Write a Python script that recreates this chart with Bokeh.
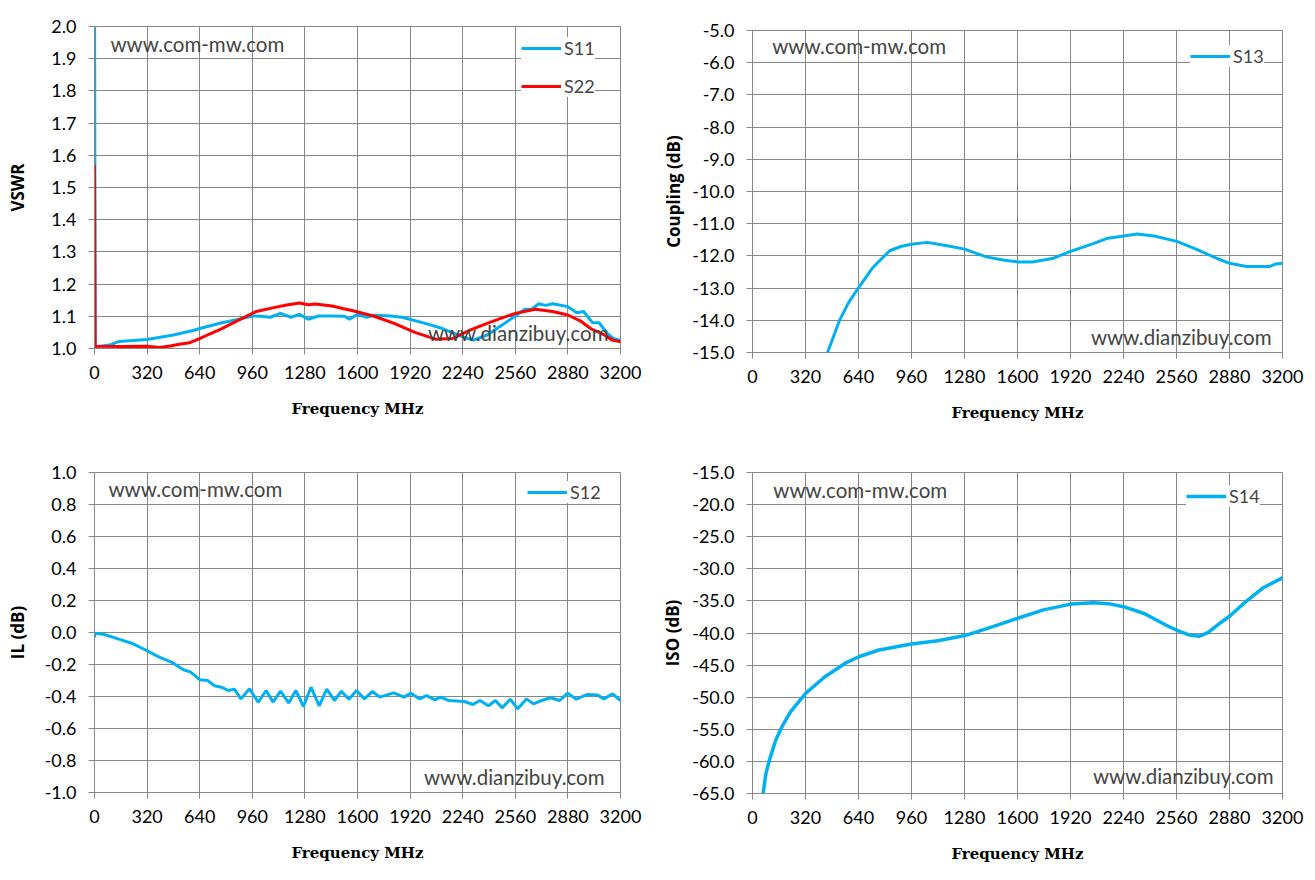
from bokeh.embed import file_html
from bokeh.layouts import column, row
from bokeh.models import (FixedTicker, Label, Legend, LegendItem,
                          NumeralTickFormatter, Range1d)
from bokeh.plotting import figure
from bokeh.resources import INLINE

BLUE = "#00B0F0"
RED = "#FF0000"
GRID = "#868686"

freq_ticks = [0, 320, 640, 960, 1280, 1600, 1920, 2240, 2560, 2880, 3200]
vswr_ticks = [1.0, 1.1, 1.2, 1.3, 1.4, 1.5, 1.6, 1.7, 1.8, 1.9, 2.0]
coupling_ticks = [-15.0, -14.0, -13.0, -12.0, -11.0, -10.0, -9.0, -8.0,
                  -7.0, -6.0, -5.0]
il_ticks = [-1.0, -0.8, -0.6, -0.4, -0.2, 0.0, 0.2, 0.4, 0.6, 0.8, 1.0]
iso_ticks = [-65.0, -60.0, -55.0, -50.0, -45.0, -40.0, -35.0, -30.0,
             -25.0, -20.0, -15.0]

# VSWR, S11 (blue) and S22 (red)
s11_freq = [0, 4, 100, 150, 320, 480, 600, 640, 775, 880, 960, 1010, 1069,
            1132, 1195, 1247, 1300, 1362, 1446, 1520, 1551, 1600, 1655, 1700,
            1802, 1870, 1918, 2012, 2117, 2240, 2305, 2389, 2494, 2560, 2619,
            2660, 2703, 2745, 2787, 2880, 2934, 2976, 3028, 3070, 3122, 3160,
            3200]
s11_vswr = [2.2, 1.005, 1.012, 1.022, 1.028, 1.042, 1.056, 1.062, 1.080,
            1.091, 1.101, 1.100, 1.097, 1.109, 1.097, 1.106, 1.091, 1.101,
            1.101, 1.100, 1.091, 1.106, 1.097, 1.103, 1.101, 1.097, 1.091,
            1.078, 1.062, 1.036, 1.026, 1.042, 1.078, 1.101, 1.122, 1.122,
            1.139, 1.134, 1.139, 1.130, 1.111, 1.115, 1.081, 1.080, 1.045,
            1.030, 1.026]

s22_freq = [0, 4, 160, 320, 398, 460, 524, 580, 640, 700, 775, 880, 985,
            1090, 1170, 1247, 1300, 1342, 1446, 1510, 1572, 1697, 1823, 1949,
            2075, 2179, 2284, 2389, 2480, 2560, 2682, 2787, 2880, 2955, 3018,
            3060, 3102, 3150, 3200]
s22_vswr = [1.57, 1.007, 1.006, 1.007, 1.003, 1.008, 1.014, 1.018, 1.031,
            1.045, 1.062, 1.089, 1.115, 1.127, 1.135, 1.141, 1.136, 1.138,
            1.132, 1.124, 1.117, 1.101, 1.078, 1.050, 1.029, 1.031, 1.057,
            1.078, 1.095, 1.109, 1.122, 1.115, 1.104, 1.086, 1.062, 1.052,
            1.042, 1.026, 1.021]

# Coupling S13
s13_freq = [440, 453, 524, 580, 640, 727, 828, 900, 960, 1056, 1183, 1280,
            1411, 1513, 1604, 1690, 1817, 1920, 2045, 2146, 2242, 2323, 2425,
            2562, 2678, 2805, 2881, 2982, 3121, 3160, 3200]
s13_db = [-15.2, -15.0, -14.02, -13.45, -12.99, -12.36, -11.84, -11.70,
          -11.64, -11.58, -11.69, -11.79, -12.03, -12.13, -12.19, -12.19,
          -12.07, -11.86, -11.64, -11.45, -11.38, -11.32, -11.38, -11.55,
          -11.79, -12.08, -12.23, -12.33, -12.33, -12.25, -12.23]

# Insertion loss S12
s12_freq = [0, 5, 59, 143, 226, 317, 394, 478, 541, 583, 642, 688, 730, 772,
            814, 851, 891, 943, 996, 1044, 1086, 1132, 1181, 1225, 1271, 1317,
            1367, 1413, 1460, 1502, 1548, 1594, 1642, 1690, 1736, 1820, 1883,
            1925, 1978, 2020, 2072, 2104, 2156, 2250, 2303, 2344, 2397, 2439,
            2481, 2529, 2575, 2628, 2670, 2721, 2774, 2830, 2879, 2932, 2995,
            3057, 3099, 3152, 3200]
s12_db = [-0.03, -0.004, -0.0125, -0.04, -0.067, -0.1125, -0.154, -0.19,
          -0.233, -0.246, -0.296, -0.30, -0.333, -0.342, -0.3625, -0.354,
          -0.415, -0.352, -0.435, -0.3625, -0.435, -0.367, -0.44, -0.3625,
          -0.4625, -0.342, -0.458, -0.354, -0.425, -0.367, -0.417, -0.3625,
          -0.415, -0.369, -0.404, -0.377, -0.404, -0.379, -0.415, -0.394,
          -0.421, -0.404, -0.425, -0.431, -0.45, -0.425, -0.458, -0.425,
          -0.471, -0.417, -0.477, -0.415, -0.446, -0.425, -0.408, -0.425,
          -0.379, -0.417, -0.3875, -0.39, -0.415, -0.383, -0.425]

# Isolation S14
s14_freq = [64, 81, 102, 140, 178, 229, 321, 433, 560, 642, 764, 960, 1120,
            1283, 1451, 1601, 1757, 1922, 2062, 2164, 2240, 2368, 2495, 2564,
            2635, 2699, 2750, 2826, 2882, 2979, 3081, 3200]
s14_db = [-65.0, -61.9, -59.8, -56.7, -54.6, -52.3, -49.4, -46.9, -44.7,
          -43.7, -42.65, -41.7, -41.2, -40.4, -39.0, -37.7, -36.4, -35.5,
          -35.3, -35.5, -35.9, -37.0, -38.75, -39.6, -40.3, -40.5, -39.95,
          -38.4, -37.35, -35.1, -33.0, -31.4]


def make_plot(y_ticks, y_label, width, height, borders, label_standoff):
    (left, right, top, bottom) = borders
    p = figure(width=width, height=height,
               x_range=Range1d(0, 3200),
               y_range=Range1d(y_ticks[0], y_ticks[-1]),
               output_backend="svg", toolbar_location=None,
               min_border_left=left, min_border_right=right,
               min_border_top=top, min_border_bottom=bottom)
    p.outline_line_color = GRID
    p.outline_line_width = 1

    p.xaxis.ticker = FixedTicker(ticks=freq_ticks)
    p.yaxis.ticker = FixedTicker(ticks=y_ticks)
    p.xgrid.ticker = FixedTicker(ticks=freq_ticks)
    p.ygrid.ticker = FixedTicker(ticks=y_ticks)
    p.xaxis.formatter = NumeralTickFormatter(format="0")
    p.yaxis.formatter = NumeralTickFormatter(format="0.0")
    p.xgrid.grid_line_color = GRID
    p.ygrid.grid_line_color = GRID

    for axis in (p.xaxis, p.yaxis):
        axis.axis_line_color = GRID
        axis.major_tick_line_color = GRID
        axis.major_tick_in = 0
        axis.major_tick_out = 6
        axis.minor_tick_line_color = None
        axis.major_label_text_font = "Lato"
        axis.major_label_text_font_size = "18px"
        axis.major_label_text_color = "black"
    p.xaxis.major_label_standoff = 11
    p.yaxis.major_label_standoff = 12

    p.xaxis.axis_label = "Frequency MHz"
    p.xaxis.axis_label_text_font = "DejaVu Serif"
    p.xaxis.axis_label_text_font_style = "bold"
    p.xaxis.axis_label_text_font_size = "15px"
    p.xaxis.axis_label_text_color = "black"
    p.xaxis.axis_label_standoff = 18

    p.yaxis.axis_label = y_label
    p.yaxis.axis_label_text_font = "Open Sans"
    p.yaxis.axis_label_text_font_style = "bold"
    p.yaxis.axis_label_text_font_size = "17px"
    p.yaxis.axis_label_text_color = "black"
    p.yaxis.axis_label_standoff = label_standoff
    return p


def add_legend(p, items, location):
    legend = Legend(items=items, location=location)
    legend.glyph_width = 40
    legend.glyph_height = 20
    legend.label_height = 20
    legend.label_standoff = 3
    legend.spacing = 16
    legend.padding = 8
    legend.margin = 0
    legend.border_line_color = None
    legend.background_fill_color = "white"
    legend.background_fill_alpha = 1.0
    legend.label_text_font = "Lato"
    legend.label_text_font_size = "18px"
    p.add_layout(legend)


def add_marks(p, top_xy, bottom_xy):
    p.add_layout(Label(x=top_xy[0], y=top_xy[1], text="www.com-mw.com",
                       text_font="Lato", text_font_size="20.5px",
                       text_baseline="middle", text_align="left"))
    p.add_layout(Label(x=bottom_xy[0], y=bottom_xy[1],
                       text="www.dianzibuy.com",
                       text_font="Lato", text_font_size="20.5px",
                       text_baseline="middle", text_align="right"))


def plot() -> None:
    vswr_plot = make_plot(vswr_ticks, "VSWR", 658, 440, (94, 38, 26, 92), 19)
    r11 = vswr_plot.line(s11_freq, s11_vswr, line_color=BLUE, line_width=3)
    r22 = vswr_plot.line(s22_freq, s22_vswr, line_color=RED, line_width=3)
    add_marks(vswr_plot, (97, 1.947), (3127, 1.047))
    add_legend(vswr_plot,
               [LegendItem(label="S11", renderers=[r11]),
                LegendItem(label="S22", renderers=[r22])],
               (427, 251))

    coupling_plot = make_plot(coupling_ticks, "Coupling (dB)", 650, 440,
                              (90, 26, 30, 88), 4)
    r13 = coupling_plot.line(s13_freq, s13_db, line_color=BLUE,
                             line_width=3)
    add_marks(coupling_plot, (119, -5.47), (3134, -14.53))
    add_legend(coupling_plot, [LegendItem(label="S13", renderers=[r13])],
               (438, 285))

    il_plot = make_plot(il_ticks, "IL (dB)", 658, 430, (94, 38, 32, 78), 13)
    r12 = il_plot.line(s12_freq, s12_db, line_color=BLUE, line_width=3)
    add_marks(il_plot, (85, 0.9), (3103, -0.9))
    add_legend(il_plot, [LegendItem(label="S12", renderers=[r12])],
               (433, 289))

    iso_plot = make_plot(iso_ticks, "ISO (dB)", 650, 430, (90, 26, 32, 77), 5)
    r14 = iso_plot.line(s14_freq, s14_db, line_color=BLUE, line_width=3.5)
    add_marks(iso_plot, (126, -17.65), (3146, -62.35))
    add_legend(iso_plot, [LegendItem(label="S14", renderers=[r14])],
               (434, 286))

    layout = row(column(vswr_plot, il_plot),
                 column(coupling_plot, iso_plot))
    open("out.html", "w").write(file_html(layout, INLINE))


plot()
